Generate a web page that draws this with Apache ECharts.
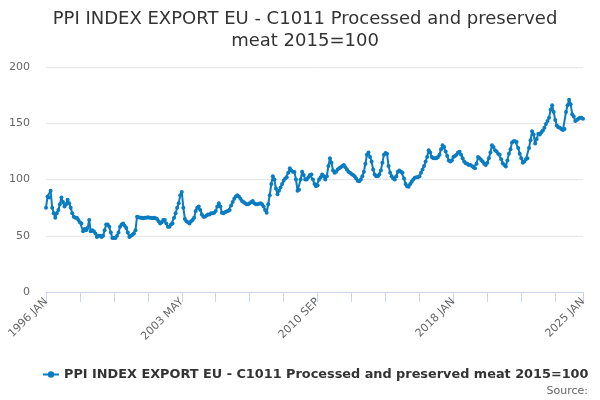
<!DOCTYPE html>
<html>
<head>
<meta charset="utf-8">
<script src="https://cdn.jsdelivr.net/npm/echarts@6/dist/echarts.min.js"></script>
<style>html,body{margin:0;padding:0;background:#fff}#c{width:600px;height:400px}</style>
</head>
<body>
<div id="c"></div>
<script>
const monthNames = ['JAN','FEB','MAR','APR','MAY','JUN','JUL','AUG','SEP','OCT','NOV','DEC'];
const firstYear = 1996;
const v1996 = [75, 85, 84, 90, 75, 70, 66, 70, 73, 78, 84, 80];
const v1997 = [76, 78, 82, 79, 75, 70, 67, 66, 66, 64, 62, 61];
const v1998 = [54, 56, 55, 57, 64, 54, 55, 54, 52, 49, 50, 50];
const v1999 = [49, 50, 55, 60, 60, 58, 53, 48, 48, 48, 50, 53];
const v2000 = [58, 60, 61, 59, 57, 53, 49, 50, 51, 52, 55, 67];
const v2001 = [66.5, 66, 66, 65.5, 66, 66, 66.5, 66, 66, 65.5, 66, 65.5];
const v2002 = [65, 63, 61, 62, 64, 64, 61, 58, 58, 60, 61, 66];
const v2003 = [70, 75, 79, 86, 89, 75, 65, 63, 62, 61, 63, 64];
const v2004 = [66, 72, 75, 76, 73, 69, 67, 67, 68, 69, 69, 70];
const v2005 = [70, 70.5, 72, 76, 79, 76, 70.5, 70, 71, 71.5, 72, 73];
const v2006 = [77, 80, 83, 85, 86, 85, 83, 81, 80, 79, 78, 78];
const v2007 = [79, 80, 81, 79, 78, 78, 78.5, 79, 78, 76, 73, 70.5];
const v2008 = [78, 86, 96, 103, 100, 92, 87, 90, 93, 96, 99, 101];
const v2009 = [102, 106, 110, 108, 107, 106.6, 100, 90, 91, 100, 107, 104];
const v2010 = [100, 100, 102, 104, 104.4, 100, 96, 94, 95, 100, 102, 104.4];
const v2011 = [103, 100, 103, 112, 119, 115, 108, 106, 107, 109, 110, 111];
const v2012 = [112, 113, 111, 109, 107, 106, 105, 104, 103, 101, 99, 98.5];
const v2013 = [100, 103, 107, 114, 122, 124, 120, 116, 109, 104.4, 103, 103];
const v2014 = [104.4, 108, 115, 122, 123.5, 123, 112, 106, 103, 101, 100, 103];
const v2015 = [107, 108, 107, 106, 101, 96, 94, 93.5, 96, 98, 100, 101.5];
const v2016 = [102, 102, 103, 106, 109, 112, 116, 120, 126, 124, 120, 119];
const v2017 = [119, 119, 120, 122, 127, 130.5, 129, 125, 121, 117, 116, 117];
const v2018 = [120, 121, 122, 124, 124.7, 122, 119, 116, 114.5, 114, 113, 113];
const v2019 = [112, 111, 110, 114, 120, 119, 117.4, 116, 114, 113, 115, 119];
const v2020 = [124, 130.5, 129, 126, 125, 123, 122, 118, 114.5, 113, 111.6, 117];
const v2021 = [123, 127, 133, 134, 134, 133.4, 128, 123, 119, 115, 116, 118];
const v2022 = [119, 128, 135, 143, 140, 132, 136, 140.7, 140, 142, 143.6, 146];
const v2023 = [149.4, 152, 155, 162, 166, 160, 153, 148, 146.5, 146, 145, 144];
const v2024 = [145, 160, 166, 171, 167, 158, 156, 152, 153, 154, 155, 155];
const v2025 = [154];
const yTicks = [0, 50, 100, 150, 200];
const seriesName = 'PPI INDEX EXPORT EU - C1011 Processed and preserved meat 2015=100';

const yearly = [v1996,v1997,v1998,v1999,v2000,v2001,v2002,v2003,v2004,v2005,v2006,v2007,v2008,v2009,v2010,v2011,v2012,v2013,v2014,v2015,v2016,v2017,v2018,v2019,v2020,v2021,v2022,v2023,v2024,v2025];
const values = [];
const categories = [];
yearly.forEach((arr, yi) => {
  arr.forEach((v, mi) => {
    values.push(v);
    categories.push((firstYear + yi) + ' ' + monthNames[mi]);
  });
});
const last = categories.length - 1;

const chart = echarts.init(document.getElementById('c'), null, {renderer: 'canvas'});
chart.setOption({
  animation: false,
  backgroundColor: '#fff',
  textStyle: {fontFamily: 'DejaVu Sans'},
  title: {
    text: 'PPI INDEX EXPORT EU - C1011 Processed and preserved\nmeat 2015=100',
    left: 300,
    top: 3,
    textAlign: 'center',
    textStyle: {fontFamily: 'DejaVu Sans', fontSize: 18, fontWeight: 'normal', color: '#333', lineHeight: 22}
  },
  grid: {left: 46, right: 17, top: 67, bottom: 108, containLabel: false},
  legend: {
    bottom: 14,
    left: 37,
    itemWidth: 16,
    itemHeight: 8,
    itemGap: 6,
    textStyle: {fontFamily: 'DejaVu Sans', fontSize: 12.85, fontWeight: 'bold', color: '#333'},
    data: [{name: seriesName}]
  },
  xAxis: {
    type: 'category',
    data: categories,
    boundaryGap: false,
    axisLine: {lineStyle: {color: '#ccd6eb', width: 1}},
    axisTick: {
      show: true,
      length: 10,
      lineStyle: {color: '#ccd6eb'},
      interval: (i) => i % 22 === 0 || i === last
    },
    axisLabel: {
      rotate: 45,
      color: '#666',
      fontSize: 11,
      fontFamily: 'DejaVu Sans',
      margin: 8,
      interval: (i) => i % 88 === 0 || i === last
    },
    splitLine: {show: false}
  },
  yAxis: {
    type: 'value',
    min: yTicks[0],
    max: yTicks[yTicks.length - 1],
    interval: 50,
    axisLine: {show: false},
    axisTick: {show: false},
    axisLabel: {color: '#666', fontSize: 11, fontFamily: 'DejaVu Sans', margin: 16},
    splitLine: {lineStyle: {color: '#e6e6e6', width: 1}}
  },
  series: [{
    name: seriesName,
    type: 'line',
    data: values,
    color: '#0a7cc1',
    lineStyle: {width: 2, color: '#0a7cc1'},
    symbol: 'circle',
    symbolSize: 4,
    showSymbol: true,
    showAllSymbol: true,
    itemStyle: {color: '#0a7cc1'}
  }],
  graphic: [{
    type: 'text',
    right: 12,
    bottom: 3,
    style: {text: 'Source:', fill: '#666', font: '11px "DejaVu Sans"'}
  }]
});
</script>
</body>
</html>
